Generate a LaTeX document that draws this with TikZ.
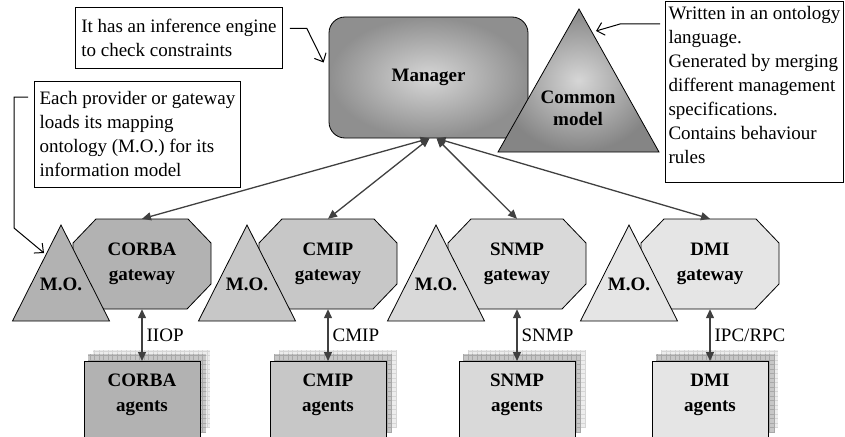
\documentclass[tikz,border=0pt]{standalone}
\usepackage{fontspec}
\setmainfont{Liberation Serif}
\usetikzlibrary{arrows.meta,calc}

\tikzset{
  note/.style={draw, fill=white, line width=0.8pt, align=left, inner xsep=2pt, inner ysep=0pt,
    font=\fontsize{19}{24}\selectfont},
  bold/.style={font=\fontsize{19}{25}\selectfont\bfseries, align=center},
  gateway/.style={bold, minimum width=138pt, minimum height=90pt},
  agents/.style={bold, draw, line width=0.8pt, minimum width=116pt, minimum height=96pt, anchor=north},
  link/.style={{Triangle[length=9pt,width=8pt]}-{Triangle[length=9pt,width=8pt]}, line width=1.3pt, black!75},
  callout/.style={-{Straight Barb[length=7pt,width=13pt]}, line width=1pt},
  proto/.style={anchor=west, font=\fontsize{19}{24}\selectfont, text=black, inner sep=1pt, xshift=3pt},
}

\begin{document}
\begin{tikzpicture}[x=1pt,y=-1pt]
\useasboundingbox (0,0) rectangle (845,436);

% manager and common model
\node[bold, draw, line width=0.8pt, rounded corners=16pt, minimum width=199pt, minimum height=121pt,
  inner color=black!16, outer color=black!44] (mgr) at (428.5,77.5) {Manager};
\draw[line width=0.8pt, inner color=black!16, outer color=black!48] (579,9) -- (659,152) -- (498,152) -- cycle;
\node[font=\fontsize{19}{22}\selectfont\bfseries, align=center] (cm) at (578,108) {Common\\model};

% notes
\node[note, minimum width=207pt, minimum height=61pt, anchor=north west] (infer) at (75,7)
  {It has an inference engine\\to check constraints};
\node[note, minimum width=206pt, minimum height=106pt, anchor=north west] (provider) at (34,81)
  {Each provider or gateway\\loads its mapping\\ontology (M.O.) for its\\information model};
\node[note, minimum width=178pt, minimum height=181pt, text depth=14pt, anchor=north west] (onto) at (665,1)
  {Written in an ontology\\language.\\Generated by merging\\different management\\specifications.\\Contains behaviour\\rules};

% gateways, mapping ontologies and agents
\foreach \cx/\name/\tone/\dx/\gw/\proto in {142/A/30/1/CORBA/IIOP, 328/B/22/1/CMIP/CMIP,
    517/C/15/8/SNMP/SNMP, 710/D/10/8/DMI/{IPC/RPC}}{
  \draw[fill=black!\tone, line width=0.8pt] (\cx-46,219) -- (\cx+46,219) -- (\cx+69,243) -- (\cx+69,284)
    -- (\cx+45,309) -- (\cx-45,309) -- (\cx-69,284) -- (\cx-69,243) -- cycle;
  \node[gateway] (gw\name) at (\cx,264) {\gw\\gateway};
  \draw[fill=black!\tone, line width=0.8pt] (\cx-81,225) -- (\cx-32.5,321) -- (\cx-129.5,321) -- cycle;
  \node[bold] (mo\name) at (\cx-81,284) {M.O.};
  % stacked shadow
  \fill[black!7] (\cx-49,350) rectangle (\cx+68,428);
  \draw[black!16, line width=0.4pt, step=4.5pt] (\cx-49,350) grid (\cx+68,428);
  \fill[black!22] (\cx-54,354) rectangle (\cx+64,433);
  \draw[black!34, line width=0.4pt, step=4.5pt] (\cx-54,354) grid (\cx+64,433);
  \node[agents, fill=black!\tone] (ag\name) at (\cx,361) {\gw\\agents\\\strut};
  \draw[link] (gw\name.south) -- (ag\name.north) node[proto, pos=0.5] {\proto};
  \draw[link] ([xshift=\dx pt]mgr.south) -- (gw\name.north);
}

% callouts
\draw[callout] ([xshift=7pt,yshift=9.5pt]infer.east) -- ++(17,0) -- ([xshift=-5pt,yshift=15pt]mgr.west);
\draw[callout] ([xshift=-6pt,yshift=-16pt]provider.north west) -- ++(-14,0) -- ++(0,131) -- ($(moA)+(-17,-31)$);
\draw[callout] ([xshift=-5pt,yshift=-23pt]onto.north west) -- ++(-40,0) -- ($(cm)+(18,-77)$);
\end{tikzpicture}
\end{document}
